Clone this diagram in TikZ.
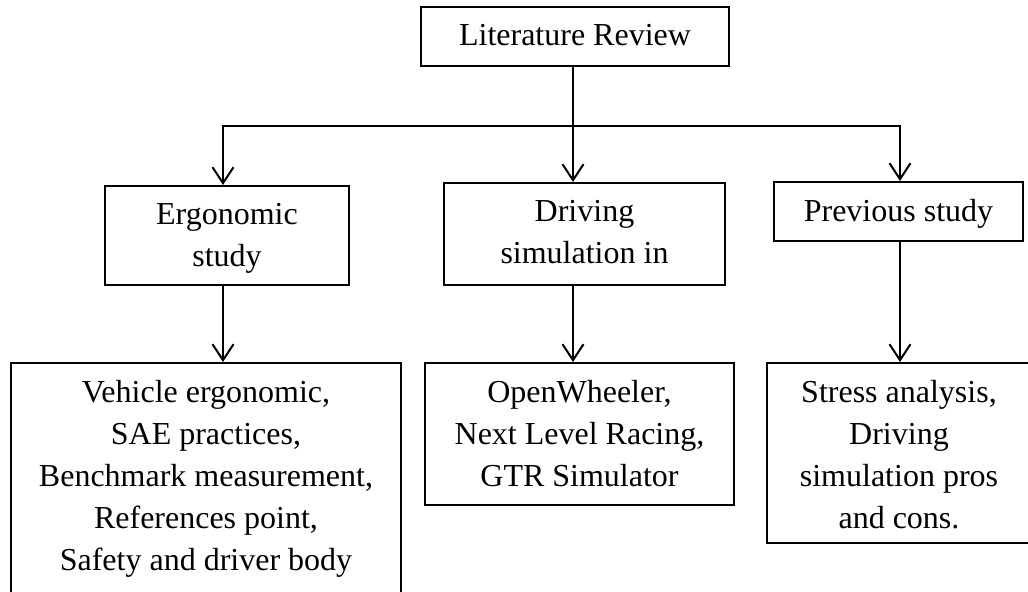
\documentclass[tikz,border=0pt]{standalone}
\usepackage{fontspec}
\setmainfont{Liberation Serif}
\usetikzlibrary{arrows.meta}

\begin{document}
\begin{tikzpicture}
[x=0.5pt,y=-0.5pt,%
 boxstyle/.style={draw,line width=1pt,rectangle,inner sep=0pt},%
 textstyle/.style={anchor=north,align=center,inner sep=0pt,yshift=-9pt,font=\fontsize{16}{21}\selectfont},%
 arrowstyle/.style={line width=1pt,-{Straight Barb[length=8pt,width=10.5pt]}}]
\useasboundingbox (0,0) rectangle (1028,591);
%% boxes
\node[boxstyle,minimum width=154pt,minimum height=29.5pt] (lit) at (575,36.5) {};
\node[boxstyle,minimum width=122pt,minimum height=49.5pt] (ergo) at (227,235.5) {};
\node[boxstyle,minimum width=140.5pt,minimum height=51pt] (drive) at (584.5,234) {};
\node[boxstyle,minimum width=124.5pt,minimum height=29.5pt] (prev) at (898.5,211.5) {};
\node[boxstyle,minimum width=195pt,minimum height=118.5pt] (veh) at (206,481.5) {};
\node[boxstyle,minimum width=154.5pt,minimum height=71pt] (owl) at (579.5,434) {};
\node[boxstyle,minimum width=132pt,minimum height=90pt] (stress) at (899,453) {};
%% texts
\node[textstyle] (lit-t) at (lit.north) {Literature Review};
\node[textstyle] (ergo-t) at (ergo.north) {Ergonomic\\study};
\node[textstyle] (drive-t) at (drive.north) {Driving\\simulation in};
\node[textstyle] (prev-t) at (prev.north) {Previous study};
\node[textstyle] (veh-t) at (veh.north) {Vehicle ergonomic,\\SAE practices,\\Benchmark measurement,\\References point,\\Safety and driver body};
\node[textstyle] (owl-t) at (owl.north) {OpenWheeler,\\Next Level Racing,\\GTR Simulator};
\node[textstyle] (stress-t) at (stress.north) {Stress analysis,\\Driving\\simulation pros\\and cons.};
%% connectors
\coordinate (jl) at (223,126);
\coordinate (jm) at (573,126);
\coordinate (jr) at (900,126);
\draw[arrowstyle] (lit.south -| jm) -- (jm |- drive.north);
\draw[arrowstyle] (jm) -| (jl |- ergo.north);
\draw[arrowstyle] (jm) -| (jr |- prev.north);
\draw[arrowstyle] (jl |- ergo.south) -- (jl |- veh.north);
\draw[arrowstyle] (jm |- drive.south) -- (jm |- owl.north);
\draw[arrowstyle] (jr |- prev.south) -- (jr |- stress.north);
\end{tikzpicture}
\end{document}
